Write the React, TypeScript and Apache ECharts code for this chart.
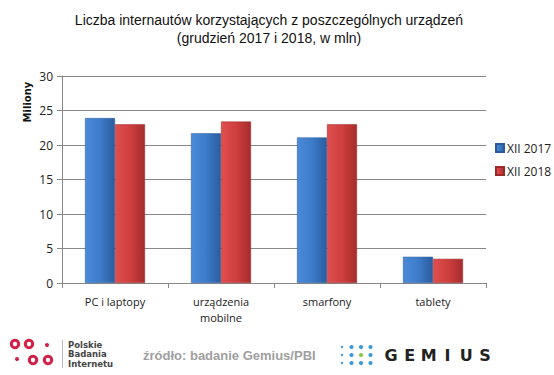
import React, { useEffect, useRef } from "react";
import * as echarts from "echarts";

const categories = ["PC i laptopy", "urządzenia\nmobilne", "smarfony", "tablety"];
const seriesNames = ["XII 2017", "XII 2018"];
const values2017 = [23.9, 21.7, 21.1, 3.8];
const values2018 = [23.0, 23.4, 23.0, 3.5];
const yTicks = { min: 0, max: 30, interval: 5 };

const titleText = "Liczba internautów korzystających z poszczególnych urządzeń\n(grudzień 2017 i 2018, w mln)";

export default function App() {
  const ref = useRef<HTMLDivElement>(null);
  useEffect(() => {
    if (!ref.current) return;
    const chart = echarts.init(ref.current, undefined, { renderer: "svg" });
    const blue = new echarts.graphic.LinearGradient(0, 0, 1, 0, [
      { offset: 0, color: "#4b8ad8" },
      { offset: 0.5, color: "#3d7ccb" },
      { offset: 1, color: "#2b5c9e" },
    ]);
    const red = new echarts.graphic.LinearGradient(0, 0, 1, 0, [
      { offset: 0, color: "#e04f4f" },
      { offset: 0.5, color: "#d03f3f" },
      { offset: 1, color: "#a52c2c" },
    ]);
    const pbiRed = "#d11f45";
    const gemBlue = "#3a9ad9";
    const gemDots: any[] = [];
    const cols = [342, 351.5, 361, 370.5];
    const rows = [347, 355, 363];
    rows.forEach((ry, ri) => {
      cols.forEach((cx, ci) => {
        const green = ri === 1 && ci === 2;
        gemDots.push({
          type: "circle",
          shape: { cx, cy: ry, r: ci === 0 ? 1.2 : 2.1 },
          style: { fill: green ? "#8cc63f" : gemBlue },
        });
      });
    });
    const gemLetters = "GEMIUS".split("").map((ch, i) => ({
      type: "text",
      x: 391 + i * 18.8,
      y: 355,
      style: {
        text: ch,
        fontFamily: "DejaVu Sans",
        fontWeight: "bold",
        fontSize: 16,
        fill: "#222",
        textAlign: "center",
        textVerticalAlign: "middle",
      },
    }));
    chart.setOption({
      animation: false,
      backgroundColor: "#ffffff",
      title: {
        text: titleText,
        left: 264,
        top: 6,
        textAlign: "center",
        textStyle: {
          fontFamily: "Liberation Sans",
          fontSize: 14,
          fontWeight: "normal",
          color: "#111",
          lineHeight: 18,
        },
      },
      legend: {
        orient: "vertical",
        left: 490,
        top: 137,
        itemWidth: 8,
        itemHeight: 8,
        itemGap: 11,
        icon: "rect",
        textStyle: { fontFamily: "Open Sans", fontSize: 12, color: "#222", padding: [0, 0, 0, -2] },
        data: seriesNames,
      },
      grid: { left: 62, right: 68, top: 76, bottom: 92 },
      xAxis: {
        type: "category",
        data: categories,
        axisLine: { lineStyle: { color: "#888" } },
        axisTick: { show: true, length: 5, lineStyle: { color: "#888" } },
        axisLabel: {
          fontFamily: "Open Sans",
          fontSize: 11,
          color: "#222",
          lineHeight: 16,
          margin: 10,
          interval: 0,
        },
      },
      yAxis: {
        type: "value",
        min: yTicks.min,
        max: yTicks.max,
        interval: yTicks.interval,
        axisLine: { show: true, lineStyle: { color: "#888" } },
        axisTick: { show: true, length: 5, lineStyle: { color: "#888" } },
        splitLine: { lineStyle: { color: "#888" } },
        axisLabel: { fontFamily: "Open Sans", fontSize: 12, color: "#222", margin: 9 },
      },
      series: [
        {
          name: seriesNames[0],
          type: "bar",
          data: values2017,
          barWidth: 30,
          barGap: "0%",
          itemStyle: { color: blue, borderColor: "#2a5a98", borderWidth: 0.5 },
        },
        {
          name: seriesNames[1],
          type: "bar",
          data: values2018,
          barWidth: 30,
          itemStyle: { color: red, borderColor: "#9a2a2a", borderWidth: 0.5 },
        },
      ],
      graphic: [
        {
          type: "text",
          x: 27,
          y: 102,
          rotation: Math.PI / 2,
          style: {
            text: "Miliony",
            fontFamily: "DejaVu Sans",
            fontWeight: "bold",
            fontSize: 10,
            fill: "#111",
            textAlign: "center",
            textVerticalAlign: "middle",
          },
        },
        { type: "ring", shape: { cx: 15, cy: 344, r: 5.2, r0: 2.2 }, style: { fill: pbiRed } },
        { type: "ring", shape: { cx: 29, cy: 344, r: 5.2, r0: 2.2 }, style: { fill: pbiRed } },
        { type: "circle", shape: { cx: 47, cy: 345, r: 2 }, style: { fill: pbiRed } },
        { type: "circle", shape: { cx: 17, cy: 359, r: 2 }, style: { fill: pbiRed } },
        { type: "ring", shape: { cx: 33, cy: 360, r: 5.2, r0: 2.2 }, style: { fill: pbiRed } },
        { type: "ring", shape: { cx: 48, cy: 360, r: 5.2, r0: 2.2 }, style: { fill: pbiRed } },
        { type: "line", shape: { x1: 62.5, y1: 340, x2: 62.5, y2: 368 }, style: { stroke: "#bbb", lineWidth: 1 } },
        {
          type: "text",
          x: 68,
          y: 354,
          style: {
            text: "Polskie\nBadania\nInternetu",
            fontFamily: "DejaVu Sans",
            fontWeight: "bold",
            fontSize: 8.5,
            lineHeight: 9.5,
            fill: "#444",
            textVerticalAlign: "middle",
          },
        },
        {
          type: "text",
          x: 143,
          y: 355,
          style: {
            text: "źródło: badanie Gemius/PBI",
            fontFamily: "Liberation Sans",
            fontWeight: "bold",
            fontSize: 13,
            fill: "#a0a0a0",
            textVerticalAlign: "middle",
          },
        },
        ...gemDots,
        ...gemLetters,
      ],
    });
    return () => chart.dispose();
  }, []);
  return <div ref={ref} style={{ position: "absolute", left: 0, top: 0, width: 554, height: 375 }} />;
}
